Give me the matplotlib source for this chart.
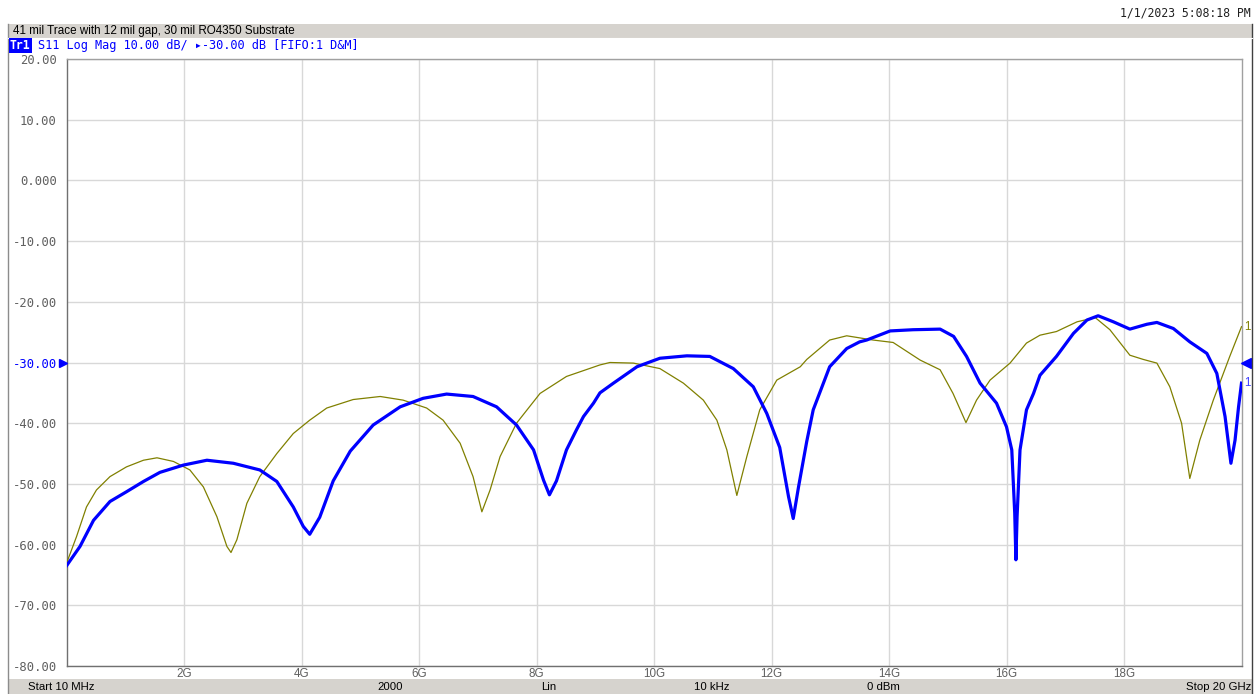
import matplotlib
matplotlib.use("Agg")
import matplotlib.pyplot as plt
from matplotlib.patches import Rectangle
from matplotlib.lines import Line2D
import matplotlib.transforms as mtransforms

# ---------------- data (frequency in GHz, S11 in dB) ----------------
blue_freq = [0.0, 0.23, 0.46, 0.74, 1.02, 1.31, 1.59, 1.99, 2.39, 2.84, 3.29, 3.58,
             3.86, 4.03, 4.14, 4.31, 4.54, 4.83, 5.22, 5.68, 6.07, 6.47, 6.92, 7.32,
             7.66, 7.95, 8.12, 8.22, 8.34, 8.51, 8.68, 8.8, 8.97, 9.08, 9.31, 9.71,
             10.1, 10.56, 10.95, 11.35, 11.69, 11.92, 12.14, 12.29, 12.37, 12.46, 12.6,
             12.71, 12.99, 13.28, 13.5, 13.62, 14.02, 14.41, 14.87, 15.1, 15.32, 15.55,
             15.83, 16.0, 16.09, 16.14, 16.16, 16.18, 16.23, 16.34, 16.46, 16.57, 16.85,
             17.14, 17.37, 17.56, 17.82, 18.1, 18.39, 18.56, 18.84, 19.12, 19.41, 19.58,
             19.72, 19.82, 19.89, 19.95, 20.0]
blue_db = [-63.5, -60.3, -56.0, -52.9, -51.3, -49.6, -48.1, -46.9, -46.1, -46.6, -47.7, -49.6,
           -53.8, -57.0, -58.3, -55.5, -49.5, -44.6, -40.3, -37.3, -35.9, -35.2, -35.6, -37.3,
           -40.3, -44.4, -49.4, -51.8, -49.5, -44.4, -41.1, -38.9, -36.7, -35.0, -33.4, -30.7,
           -29.3, -28.9, -29.0, -31.0, -34.0, -38.4, -44.0, -52.1, -55.7, -50.5, -43.0,
           -37.8, -30.7, -27.7, -26.6, -26.3, -24.8, -24.6, -24.5, -25.7, -29.0, -33.4,
           -36.7, -40.6, -44.4, -54.8, -62.5, -55.4, -44.4, -37.8, -35.1, -32.1, -29.0,
           -25.2, -23.0, -22.3, -23.3, -24.5, -23.7, -23.4, -24.4, -26.6, -28.5, -31.8,
           -38.9, -46.6, -42.8, -37.3, -33.4]

olive_freq = [0.0, 0.17, 0.34, 0.51, 0.74, 1.02, 1.31, 1.54, 1.82, 2.1, 2.33, 2.56,
              2.73, 2.8, 2.9, 3.07, 3.29, 3.58, 3.86, 4.14, 4.43, 4.88, 5.34, 5.73,
              6.13, 6.41, 6.7, 6.92, 7.07, 7.21, 7.38, 7.66, 8.06, 8.51, 9.08, 9.25,
              9.65, 10.1, 10.5, 10.84, 11.07, 11.24, 11.41, 11.58, 11.8, 12.09, 12.49,
              12.6, 12.99, 13.28, 13.73, 14.07, 14.53, 14.87, 15.09, 15.31, 15.49, 15.72,
              16.06, 16.34, 16.57, 16.85, 17.2, 17.51, 17.76, 18.1, 18.33, 18.56, 18.78,
              18.98, 19.12, 19.29, 19.52, 19.8, 20.0]
olive_db = [-63.1, -58.7, -53.8, -51.0, -48.8, -47.2, -46.1, -45.7, -46.3, -47.7, -50.5, -55.4,
            -60.3, -61.3, -59.2, -53.2, -48.8, -45.0, -41.7, -39.5, -37.5, -36.1, -35.6, -36.2,
            -37.5, -39.5, -43.3, -48.8, -54.6, -51.0, -45.5, -40.0, -35.1, -32.3, -30.4, -30.0,
            -30.1, -31.0, -33.4, -36.2, -39.5, -44.4, -51.9, -45.5, -37.8, -32.9, -30.7,
            -29.5, -26.3, -25.6, -26.3, -26.7, -29.6, -31.2, -35.1, -39.9, -36.2, -32.9,
            -30.1, -26.8, -25.5, -24.9, -23.3, -22.6, -24.6, -28.8, -29.5, -30.1, -34.0,
            -40.0, -49.1, -42.8, -36.2, -29.0, -24.1]

y_ticks = [20, 10, 0, -10, -20, -30, -40, -50, -60, -70, -80]
y_tick_labels = ["20.00", "10.00", "0.000", "-10.00", "-20.00", "-30.00",
                 "-40.00", "-50.00", "-60.00", "-70.00", "-80.00"]
x_ticks = [2, 4, 6, 8, 10, 12, 14, 16, 18]
x_tick_labels = ["2G", "4G", "6G", "8G", "10G", "12G", "14G", "16G", "18G"]

title = "41 mil Trace with 12 mil gap, 30 mil RO4350 Substrate"
timestamp = "1/1/2023 5:08:18 PM"
trace_tag = "Tr1"
trace_info = "S11 Log Mag 10.00 dB/ \u25b8-30.00 dB [FIFO:1 D&M]"
footer = [("Start 10 MHz", 28, "left"), ("2000", 390, "center"), ("Lin", 549, "center"),
          ("10 kHz", 712, "center"), ("0 dBm", 883, "center"), ("Stop 20 GHz", 1251, "right")]

# ---------------- figure ----------------
W, H = 1257, 694
fig = plt.figure(figsize=(W / 100, H / 100), dpi=100)
fig.patch.set_facecolor("white")

def fx(px):
    return px / W

def fy(py):
    return 1 - py / H

band = "#d6d3ce"
mono = ["DejaVu Sans Mono"]
sans = ["Liberation Sans", "DejaVu Sans"]

# header band
fig.add_artist(Rectangle((fx(8), fy(38)), fx(1252) - fx(8), fy(24) - fy(38),
                         transform=fig.transFigure, facecolor=band, edgecolor="none"))
# footer band
fig.add_artist(Rectangle((fx(8), fy(694)), fx(1252) - fx(8), fy(679) - fy(694),
                         transform=fig.transFigure, facecolor=band, edgecolor="none"))
# outer frame lines
fig.add_artist(Line2D([fx(8), fx(8)], [fy(24), fy(694)], transform=fig.transFigure,
                      color="#8c8c8c", lw=1))
fig.add_artist(Line2D([fx(1252), fx(1252)], [fy(24), fy(694)], transform=fig.transFigure,
                      color="#404040", lw=1))
fig.add_artist(Line2D([fx(8), fx(1252)], [fy(38), fy(38)], transform=fig.transFigure,
                      color="#ffffff", lw=0.8))

fig.text(fx(13), fy(31), title, fontsize=8.4, family=sans, va="center", ha="left", color="black")
fig.text(fx(1251), fy(13), timestamp, fontsize=8.3, family=mono, va="center", ha="right",
         color="#202020")
fig.text(fx(10), fy(45.5), trace_tag, fontsize=8.3, family=mono, va="center", ha="left",
         color="white", fontweight="bold",
         bbox=dict(boxstyle="square,pad=0.08", facecolor="#0000ff", edgecolor="none"))
fig.text(fx(38), fy(45.5), trace_info, fontsize=8.55, family=mono, va="center", ha="left",
         color="#0000ff")

for txt, px, ha in footer:
    fig.text(fx(px), fy(687), txt, fontsize=8.2, family=sans, va="center", ha=ha, color="black")

# ---------------- axes ----------------
left, right, top, bottom = 66.5, 1241.5, 59, 666
ax = fig.add_axes([fx(left), fy(bottom), fx(right) - fx(left), fy(top) - fy(bottom)])
ax.set_xlim(0, 20)
ax.set_ylim(-80, 20)
ax.set_facecolor("white")

ax.set_yticks(y_ticks)
ax.set_yticklabels(y_tick_labels, family=mono, fontsize=8.8, color="#606060")
ax.set_xticks(x_ticks)
ax.set_xticklabels(x_tick_labels, family=sans, fontsize=8.4, color="#606060")
ax.tick_params(axis="both", length=0)
ax.tick_params(axis="y", pad=7)
ax.tick_params(axis="x", pad=1.5)
for lbl in ax.get_yticklabels():
    if lbl.get_text() == "-30.00":
        lbl.set_color("#0000ff")

ax.grid(True, color="#d8d8d8", lw=1)
ax.set_axisbelow(True)
for side, sp in ax.spines.items():
    sp.set_color("#a0a0a0")
    sp.set_linewidth(1)
ax.spines["left"].set_color("#707070")
ax.spines["bottom"].set_color("#707070")

ax.plot(olive_freq, olive_db, color="#808000", lw=0.9, zorder=3, solid_joinstyle="round")
ax.plot(blue_freq, blue_db, color="#0000ff", lw=2.3, zorder=4, solid_joinstyle="round")

# reference markers at -30 dB
trans = mtransforms.blended_transform_factory(ax.transAxes, ax.transData)
ax.plot([-0.003], [-30], marker=">", color="#0000ff", ms=6, transform=trans, clip_on=False,
        zorder=5)
ax.plot([1.0035], [-30], marker="<", color="#0000ff", ms=7, transform=trans, clip_on=False,
        zorder=5)

# trace end labels
ax.annotate("1", (olive_freq[-1], olive_db[-1]), xytext=(2, 0), textcoords="offset points",
            fontsize=8.4, color="#808000", family=sans, va="center", ha="left",
            annotation_clip=False)
ax.annotate("1", (blue_freq[-1], blue_db[-1]), xytext=(2, 0), textcoords="offset points",
            fontsize=8.4, color="#4040ff", family=sans, va="center", ha="left",
            annotation_clip=False)

fig.savefig("out.png", dpi=100, facecolor="white")
